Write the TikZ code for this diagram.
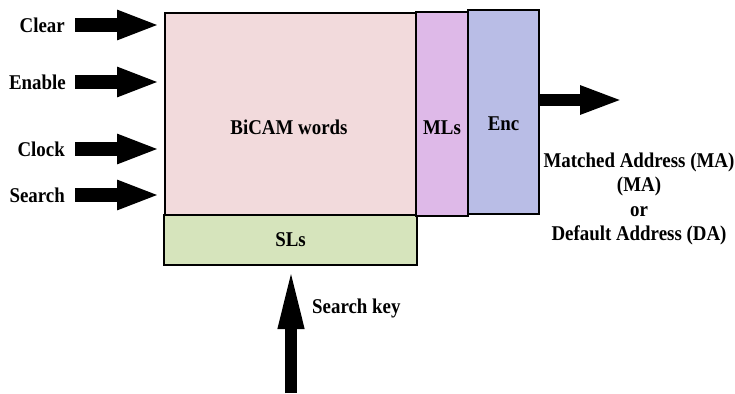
\documentclass[tikz,border=0pt]{standalone}
\usepackage{fontspec}
\setmainfont{Liberation Serif}
\newfontfamily\lblfont{Liberation Serif}[FakeStretch=0.9]
\usepackage{xcolor}
\usepackage{tikz}
\usetikzlibrary{arrows.meta, positioning, calc}
\definecolor{wordpink}{RGB}{242,218,220}
\definecolor{slgreen}{RGB}{214,228,188}
\definecolor{mlpurple}{RGB}{222,185,232}
\definecolor{encblue}{RGB}{185,189,230}
\tikzstyle{block} = [draw=black, line width=1.6pt, inner sep=0pt, outer sep=0pt]
\tikzstyle{lbl} = [font=\lblfont\fontsize{21}{24.5}\selectfont\bfseries, inner sep=0pt]
\tikzstyle{fatarrow} = [line width=14pt, -{Triangle[length=43pt,width=27pt]}]

\begin{document}
\begin{tikzpicture}[x=1pt, y=-1pt]
        \useasboundingbox (0,0) rectangle (735,393);
        % memory blocks
        \node[block, fill=wordpink, minimum width=251pt, minimum height=202pt] (words) at (290.5,114) {};
        \node[block, fill=slgreen, minimum width=253pt, minimum height=50pt] (sls) at (290.5,240) {};
        \node[block, fill=mlpurple, minimum width=52pt, minimum height=204pt] (mls) at (442,114) {};
        \node[block, fill=encblue, minimum width=71pt, minimum height=204pt] (enc) at (503.5,112) {};
        \node[lbl] (wordstxt) at (289,127) {BiCAM words};
        \node[lbl] (slstxt) at (290.5,240) {SLs};
        \node[lbl] (mlstxt) at (442,128) {MLs};
        \node[lbl] (enctxt) at (503.5,124) {Enc};

        % control inputs
        \node[lbl, anchor=east] (clear) at (65,25) {Clear};
        \node[lbl, anchor=east] (enable) at (66,82) {Enable};
        \node[lbl, anchor=east] (clock) at (65,149) {Clock};
        \node[lbl, anchor=east] (search) at (65,195) {Search};
        \draw[fatarrow] ([xshift=10pt]clear.east) -- ([xshift=-5pt]clear.east -| words.west);
        \draw[fatarrow] ([xshift=9pt]enable.east) -- ([xshift=-5pt]enable.east -| words.west);
        \draw[fatarrow] ([xshift=10pt]clock.east) -- ([xshift=-5pt]clock.east -| words.west);
        \draw[fatarrow] ([xshift=10pt]search.east) -- ([xshift=-5pt]search.east -| words.west);

        % output
        \coordinate (maout) at (623,100);
        \draw[fatarrow, line width=12pt, -{Triangle[length=43pt,width=26pt]}] (enc.east |- maout) -- (maout);
        \node[lbl, align=center] (out) at (639,199) {Matched Address (MA)\\(MA)\\or\\Default Address (DA)};

        % search key input
        \coordinate (keyin) at (291,393);
        \node[lbl, anchor=west] (key) at (312,308) {Search key};
        \draw[fatarrow, line width=12pt, -{Triangle[length=64pt,width=23pt]}] (keyin) -- (keyin |- sls.south);
\end{tikzpicture}
\end{document}
